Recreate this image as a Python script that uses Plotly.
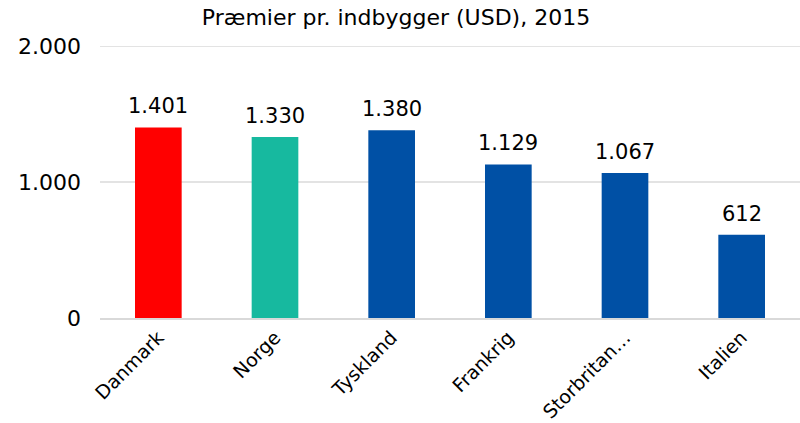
import plotly.graph_objects as go

categories = ["Danmark", "Norge", "Tyskland", "Frankrig", "Storbritan…", "Italien"]
values = [1401, 1330, 1380, 1129, 1067, 612]
colors = ["#FF0000", "#17B99F", "#0050A5", "#0050A5", "#0050A5", "#0050A5"]
labels = [f"{v:,}".replace(",", ".") for v in values]
tick_vals = [0, 1000, 2000]
tick_text = ["0", "1.000", "2.000"]

FONT = "DejaVu Sans, Verdana, sans-serif"

fig = go.Figure(go.Bar(
    x=categories, y=values, marker_color=colors, marker_line_width=0,
    width=0.4, hoverinfo="x+y",
))

for c, v, t in zip(categories, values, labels):
    fig.add_annotation(x=c, y=v, text=t, showarrow=False, yanchor="bottom",
                       yshift=7, font=dict(family=FONT, size=21, color="#000000"))

fig.update_layout(
    width=800, height=423,
    margin=dict(l=100, r=0, t=46, b=105, autoexpand=False),
    paper_bgcolor="white", plot_bgcolor="white",
    title=dict(text="Præmier pr. indbygger (USD), 2015", x=0.495, xanchor="center",
               y=0.96, yanchor="middle",
               font=dict(family=FONT, size=22, color="#000000")),
    showlegend=False,
    font=dict(family=FONT, color="#000000"),
)
fig.update_yaxes(range=[0, 2000], tickvals=tick_vals, ticktext=tick_text,
                 showgrid=True, gridcolor="#E3E3E3", gridwidth=2,
                 zeroline=False, showline=False, automargin=False,
                 tickfont=dict(family=FONT, size=22, color="#000000"),
                 ticks="", ticklabelstandoff=18)
fig.update_xaxes(tickangle=-45, showline=True, linecolor="#D9D9D9", linewidth=2,
                 automargin=False,
                 tickfont=dict(family=FONT, size=19, color="#000000"),
                 ticks="", ticklabelstandoff=-1)

# top gridline at 2.000 (plotly omits gridlines on the plot edge)
fig.add_shape(type="line", xref="paper", x0=0, x1=1, yref="y", y0=2000, y1=2000,
              line=dict(color="#E3E3E3", width=2), layer="below")

fig.write_html("out.html", config={"displayModeBar": False},
               post_script="document.body.style.margin='0';")
